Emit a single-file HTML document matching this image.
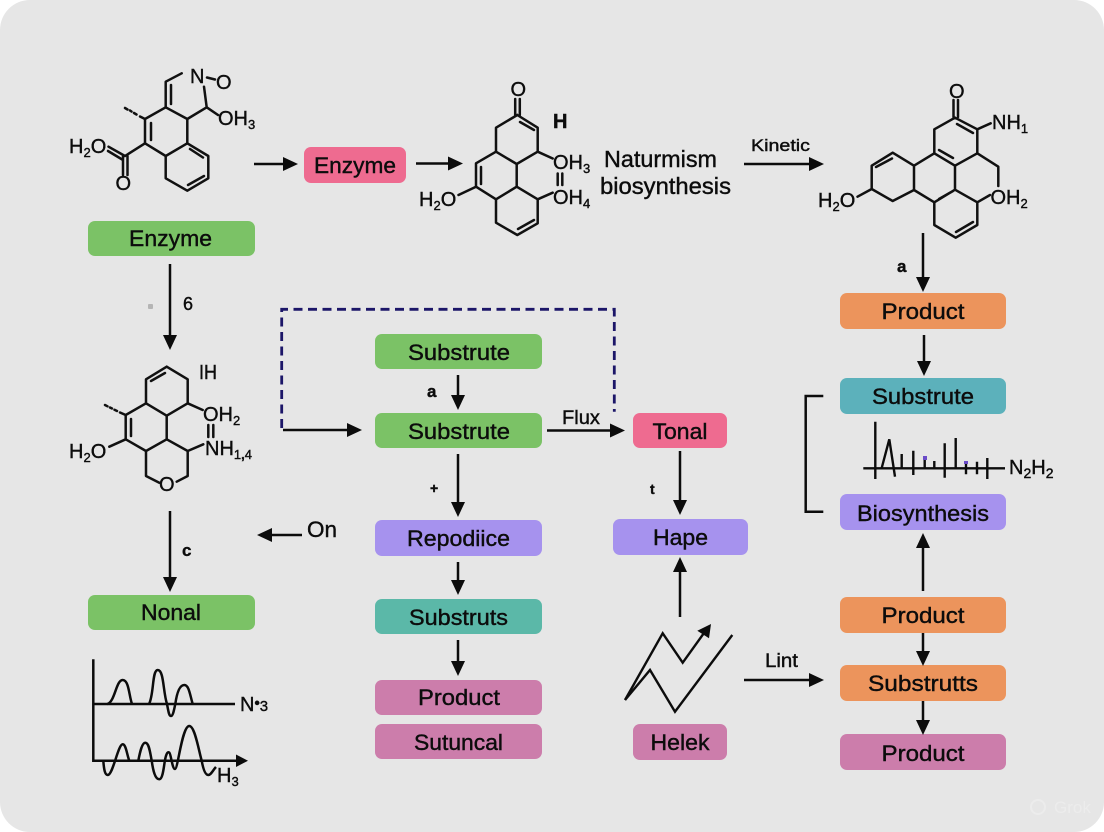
<!DOCTYPE html>
<html><head><meta charset="utf-8"><title>Biosynthesis diagram</title>
<style>
html,body{margin:0;padding:0;background:#fff;width:1104px;height:832px;overflow:hidden}
svg{display:block;filter:blur(.3px)}
text{font-family:"Liberation Sans",sans-serif;fill:#0c0c0c;stroke:#0c0c0c;stroke-width:.4px}
.b{font-size:22.5px;text-anchor:middle}
.c{font-size:20px}
.s{font-size:13px}
.bond path{fill:none;stroke:#111;stroke-width:2.5;stroke-linejoin:round;stroke-linecap:round}
.ar line{stroke:#0c0c0c;stroke-width:2.5}
.ar polygon{fill:#0c0c0c}
</style></head><body>
<svg width="1104" height="832" viewBox="0 0 1104 832" xmlns="http://www.w3.org/2000/svg">
<rect x="0" y="0" width="1104" height="832" rx="30" fill="#e6e6e6"/>

<!-- boxes -->
<g>
<rect x="88" y="221" width="167" height="35" rx="7" fill="#7bc266"/>
<rect x="304" y="147" width="102" height="36" rx="7" fill="#ee6b90"/>
<rect x="88" y="595" width="167" height="35" rx="7" fill="#7bc266"/>
<rect x="375" y="334" width="167" height="35" rx="7" fill="#7bc266"/>
<rect x="375" y="413" width="167" height="35" rx="7" fill="#7bc266"/>
<rect x="633" y="413" width="94" height="35" rx="7" fill="#ee6b90"/>
<rect x="375" y="520" width="167" height="36" rx="7" fill="#a692ee"/>
<rect x="613" y="519" width="135" height="36" rx="7" fill="#a692ee"/>
<rect x="375" y="599" width="167" height="35" rx="7" fill="#5bb8a8"/>
<rect x="375" y="680" width="167" height="35" rx="7" fill="#cc7dab"/>
<rect x="375" y="724" width="167" height="35" rx="7" fill="#cc7dab"/>
<rect x="633" y="724" width="94" height="36" rx="7" fill="#cc7dab"/>
<rect x="840" y="293" width="166" height="36" rx="7" fill="#ec945c"/>
<rect x="840" y="378" width="166" height="36" rx="7" fill="#5cb1bb"/>
<rect x="840" y="494" width="166" height="36" rx="7" fill="#a692ee"/>
<rect x="840" y="597" width="166" height="36" rx="7" fill="#ec945c"/>
<rect x="840" y="665" width="166" height="36" rx="7" fill="#ec945c"/>
<rect x="840" y="734" width="166" height="36" rx="7" fill="#cc7dab"/>
</g>
<g>
<text class="b" x="170.5" y="246" textLength="83" lengthAdjust="spacingAndGlyphs">Enzyme</text>
<text class="b" x="355" y="173" textLength="82" lengthAdjust="spacingAndGlyphs">Enzyme</text>
<text class="b" x="171" y="620" textLength="60" lengthAdjust="spacingAndGlyphs">Nonal</text>
<text class="b" x="459" y="360" textLength="102" lengthAdjust="spacingAndGlyphs">Substrute</text>
<text class="b" x="459" y="439" textLength="102" lengthAdjust="spacingAndGlyphs">Substrute</text>
<text class="b" x="680" y="439" textLength="55" lengthAdjust="spacingAndGlyphs">Tonal</text>
<text class="b" x="458.500" y="546" textLength="103" lengthAdjust="spacingAndGlyphs">Repodiice</text>
<text class="b" x="680.500" y="545" textLength="55" lengthAdjust="spacingAndGlyphs">Hape</text>
<text class="b" x="458.500" y="625" textLength="99" lengthAdjust="spacingAndGlyphs">Substruts</text>
<text class="b" x="459" y="705" textLength="82" lengthAdjust="spacingAndGlyphs">Product</text>
<text class="b" x="458.500" y="750" textLength="89" lengthAdjust="spacingAndGlyphs">Sutuncal</text>
<text class="b" x="680" y="750" textLength="59" lengthAdjust="spacingAndGlyphs">Helek</text>
<text class="b" x="923" y="319" textLength="83" lengthAdjust="spacingAndGlyphs">Product</text>
<text class="b" x="923" y="404" textLength="102" lengthAdjust="spacingAndGlyphs">Substrute</text>
<text class="b" x="923" y="521" textLength="132" lengthAdjust="spacingAndGlyphs">Biosynthesis</text>
<text class="b" x="923" y="623" textLength="83" lengthAdjust="spacingAndGlyphs">Product</text>
<text class="b" x="923" y="691" textLength="110" lengthAdjust="spacingAndGlyphs">Substrutts</text>
<text class="b" x="923" y="761" textLength="83" lengthAdjust="spacingAndGlyphs">Product</text>
</g>

<!-- arrows -->
<g class="ar">
<line x1="254" y1="164" x2="285" y2="164"/><polygon points="298,164 283,157 283,171"/>
<line x1="416" y1="163.500" x2="450" y2="163.500"/><polygon points="463,163.500 448,156.500 448,170.500"/>
<line x1="744" y1="164" x2="811" y2="164"/><polygon points="824,164 809,157 809,171"/>
<line x1="170" y1="264" x2="170" y2="337"/><polygon points="170,350 163,335 177,335"/>
<line x1="923" y1="233" x2="923" y2="279"/><polygon points="923,292 916,277 930,277"/>
<line x1="924" y1="335" x2="924" y2="363"/><polygon points="924,376 917,361 931,361"/>
<line x1="170" y1="511" x2="170" y2="579"/><polygon points="170,592 163,577 177,577"/>
<line x1="302" y1="535" x2="270" y2="535"/><polygon points="257,535 272,528 272,542"/>
<line x1="458" y1="375" x2="458" y2="397"/><polygon points="458,410 451,395 465,395"/>
<line x1="283" y1="430" x2="349" y2="430"/><polygon points="362,430 347,423 347,437"/>
<line x1="547" y1="430.500" x2="612" y2="430.500"/><polygon points="625,430.500 610,423.500 610,437.500"/>
<line x1="458" y1="454" x2="458" y2="504"/><polygon points="458,517 451,502 465,502"/>
<line x1="680" y1="451" x2="680" y2="502"/><polygon points="680,515 673,500 687,500"/>
<line x1="458" y1="562" x2="458" y2="582"/><polygon points="458,595 451,580 465,580"/>
<line x1="458" y1="640" x2="458" y2="663"/><polygon points="458,676 451,661 465,661"/>
<line x1="680" y1="617" x2="680" y2="570"/><polygon points="680,557 673,572 687,572"/>
<line x1="744" y1="680" x2="811" y2="680"/><polygon points="824,680 809,673 809,687"/>
<line x1="923" y1="591" x2="923" y2="546"/><polygon points="923,533 916,548 930,548"/>
<line x1="923" y1="633" x2="923" y2="653"/><polygon points="923,666 916,651 930,651"/>
<line x1="923" y1="701" x2="923" y2="722"/><polygon points="923,735 916,720 930,720"/>
</g>

<!-- dashed feedback -->
<path d="M281.700,428 V309.300 H614.300 V411.700" fill="none" stroke="#1c1668" stroke-width="2.800" stroke-dasharray="9 5.500"/>

<!-- molecule 1 -->
<g class="bond">
<path d="M181.700,73.300 L165.700,81.700 V107.300 L187.300,119 L206.700,107.300 L204,86.700 M206.700,107.300 L218,115 M171,85 V104"/>
<path d="M187.300,119 V143.300 L165.700,156 L145,143.300 V119 L165.700,107.300 M151,123 V140"/>
<path d="M187.300,143.300 L208.300,156 V178.300 L187.300,190.700 L165.700,178.300 V156 M190,149 L203,157.500 M204,176 L188,185"/>
<path d="M145,143.300 L125,156 M125,156 L108.500,146.700 M123,160 L108,151 M123,156 V175 M127.500,156 V175"/>
<path d="M207,77.500 L215,79.500"/>
<path d="M145,119 L140,116.500 M136.500,114.500 L134,113 M131.500,111.500 L130,110.500 M127.500,109.500 L125,108" stroke-width="2.800"/>
</g>
<text class="c" x="190" y="83">N</text>
<text class="c" x="216" y="89">O</text>
<text class="c" x="218" y="125">OH<tspan class="s" dy="4">3</tspan></text>
<text class="c" x="69" y="153">H<tspan class="s" dy="4">2</tspan><tspan dy="-4">O</tspan></text>
<text class="c" x="115.500" y="190">O</text>

<!-- molecule 2 -->
<g class="bond">
<path d="M515.200,99 V115 M519.800,99 V115"/>
<path d="M517.300,115 L496,127.700 V151.700 L516.700,164 L537.700,151.700 V127.700 L517.300,115 M520,122 L534,130"/>
<path d="M496,151.700 L476,163.300 V186.700 L496,199.300 L516.700,186.700 V164 M481,167 V184"/>
<path d="M516.700,186.700 L537.700,199.300 V223.300 L517.300,235 L496,222.700 V199.300 M534,220 L518,229"/>
<path d="M476,186.700 L458.500,195 M537.700,151.700 L552.700,158.500 M537.700,199.300 L552.700,192.700"/>
<path d="M557.700,173.500 V185 M562.300,173.500 V185"/>
</g>
<text class="c" x="510.500" y="96">O</text>
<text class="c" x="553" y="128" font-weight="bold">H</text>
<text class="c" x="553" y="169">OH<tspan class="s" dy="4">3</tspan></text>
<text class="c" x="553" y="204">OH<tspan class="s" dy="4">4</tspan></text>
<text class="c" x="419" y="206">H<tspan class="s" dy="4">2</tspan><tspan dy="-4">O</tspan></text>
<text x="604" y="167" font-size="23" textLength="113" lengthAdjust="spacingAndGlyphs">Naturmism</text>
<text x="600" y="194" font-size="23" textLength="131" lengthAdjust="spacingAndGlyphs">biosynthesis</text>

<!-- molecule 3 -->
<g class="bond">
<path d="M953.500,100 V117 M958,100 V117"/>
<path d="M955,117.700 L934.300,129.300 V153.300 L955,165.700 L977.300,153.300 V129.300 L955,117.700 M957,124 L973,133 M939,150 L953,158"/>
<path d="M977.300,129.300 L990.700,123.300 M977.300,153.300 L998.300,166.700 V186"/>
<path d="M955,165.700 V189.700 L977.300,202.300 L990,195 M977.300,202.300 V225 L955.700,237.700 L934.300,225 V202.300 L955,189.700 M939,199 L953,191 M973,222 L956,232"/>
<path d="M934.300,202.300 L914,190 V165.700 L934.300,153.300 M914,165.700 L892.700,152.700 L871.700,165.700 V189 L892.700,201 L914,190 M876,167 L892,158.500 M871.700,189 L857.500,196.700"/>
</g>
<text class="c" x="949" y="98">O</text>
<text class="c" x="992" y="129">NH<tspan class="s" dy="4">1</tspan></text>
<text class="c" x="990.500" y="204">OH<tspan class="s" dy="4">2</tspan></text>
<text class="c" x="818" y="207">H<tspan class="s" dy="4">2</tspan><tspan dy="-4">O</tspan></text>
<text x="751" y="151" font-size="17" textLength="59" lengthAdjust="spacingAndGlyphs">Kinetic</text>

<!-- molecule 4 -->
<g class="bond">
<path d="M166.700,366.700 L146,379.300 V403.300 L166.700,415.700 L187.700,403.300 V379.300 L166.700,366.700 M151,381 L165,373"/>
<path d="M146,403.300 L125.700,415 V439.300 L146,451 L166.700,439.300 V415.700 M131,419 V436"/>
<path d="M166.700,439.300 L187.700,451 L203.300,444.300 M187.700,451 V476 L176.700,481.700 M146,451 V476 L159.300,482.700"/>
<path d="M187.700,403.300 L202.700,410 M125.700,439.300 L109.300,446.700"/>
<path d="M208.300,425 V437 M213.300,425 V437"/>
<path d="M125.700,415 L120,412.500 M117,411 L114.500,409.800 M112,408.500 L110,407.500 M107.500,406.300 L105,405" stroke-width="2.800"/>
</g>
<text class="c" x="199" y="379" textLength="18" lengthAdjust="spacingAndGlyphs">IH</text>
<text class="c" x="203" y="421">OH<tspan class="s" dy="4">2</tspan></text>
<text class="c" x="205" y="455">NH<tspan class="s" dy="4">1</tspan><tspan class="s" font-weight="bold">,</tspan><tspan class="s">4</tspan></text>
<text class="c" x="69" y="458">H<tspan class="s" dy="4">2</tspan><tspan dy="-4">O</tspan></text>
<text class="c" x="159" y="491">O</text>

<!-- small labels -->
<text x="183" y="310" font-size="18">6</text>
<rect x="148" y="304" width="5" height="5" rx="1" fill="#b5b5b5"/>
<text x="897" y="272" font-size="17" font-weight="bold">a</text>
<text x="182" y="556" font-size="17" font-weight="bold">c</text>
<text x="307" y="537" font-size="22" textLength="30" lengthAdjust="spacingAndGlyphs">On</text>
<text x="427" y="397" font-size="17" font-weight="bold">a</text>
<text x="562" y="424" font-size="19" textLength="38" lengthAdjust="spacingAndGlyphs">Flux</text>
<text x="430" y="493" font-size="14" font-weight="bold">+</text>
<text x="650" y="494" font-size="14" font-weight="bold">t</text>
<text x="765" y="667" font-size="19" textLength="33" lengthAdjust="spacingAndGlyphs">Lint</text>

<!-- left plots -->
<g fill="none" stroke="#0c0c0c" stroke-width="2.500">
<path d="M93.300,659.300 V760.700 H238 M93.300,704 H235"/>
<path d="M107.300,704 C115,702 116,680 122.700,680 C129,680 129,696 132,704"/>
<path d="M149,704 C154,695 152,670 157.700,670 C164,670 163,692 167,704 C168.500,712 169,716 171,716 C173,716 174,710 175.300,704 C177,692 180,685 184.300,685 C189,685 190,695 192.700,704"/>
<path d="M103.300,760.700 C104,770 105,775 107.700,775 C113,775 118,744.300 122.700,744.300 C126,744.300 127,755 129.300,760.700"/>
<path d="M138.300,760.700 C140,752 142,742.700 145.300,742.700 C149,742.700 150,752 151.700,760.700 C153,770 155,779.300 159.300,779.300 C163,779.300 164,765 165,760 C166,755 167,752.300 168.700,752.300 C171,752.300 172,769 175,769 C178,769 182,726 189.300,726 C195,726 199,752 201.700,760.700 C203,768 205,775 208.300,775 C211,775 213,770 216,767"/>
</g>
<polygon points="248,760.700 236,754.500 236,767" fill="#0c0c0c"/>
<text x="240" y="711" font-size="20">N<tspan font-weight="bold" font-size="15" dy="-3">•</tspan><tspan dy="3" font-size="15">3</tspan></text>
<text x="217" y="782" font-size="20">H<tspan class="s" dy="4" font-size="14">3</tspan></text>

<!-- zigzag -->
<g fill="none" stroke="#0c0c0c" stroke-width="2.400" stroke-linejoin="miter">
<path d="M625,700 L662.700,633.300 L682.700,662.700 L704,633"/>
<path d="M625,700 L650,670 L675,711.700 L732.300,635"/>
</g>
<polygon points="711,624 697.300,630.700 709,638.300" fill="#0c0c0c"/>

<!-- bracket and spectrum -->
<path d="M823.300,396 H805.700 V511.700 H823.300" fill="none" stroke="#0c0c0c" stroke-width="2.500"/>
<g fill="none" stroke="#0c0c0c" stroke-width="2.400">
<path d="M863.300,468.300 H1005 M875.300,421.700 V479 M881.700,468 L889.300,439.300 L895,476.700 M901.700,454 V468 M913.300,450.700 V475 M924.700,457 V468 M934.300,461 V468 M944.700,443.300 V477.700 M955.700,438 V468 M966,461.700 V474.300 M977,461.700 V474.300 M987.300,458 V479"/>
</g>
<rect x="923" y="456" width="4" height="4" fill="#6a4bc8"/>
<rect x="964" y="461" width="4" height="3" fill="#6a4bc8"/>
<text x="1009" y="474" font-size="20">N<tspan font-size="14" dy="4">2</tspan><tspan dy="-4">H</tspan><tspan font-size="14" dy="4">2</tspan></text>

<!-- watermark -->
<circle cx="1038" cy="807" r="7" fill="none" stroke="#ececec" stroke-width="2"/>
<text x="1054" y="813" font-size="17" style="fill:#ececec;stroke:none">Grok</text>
</svg>
</body></html>
